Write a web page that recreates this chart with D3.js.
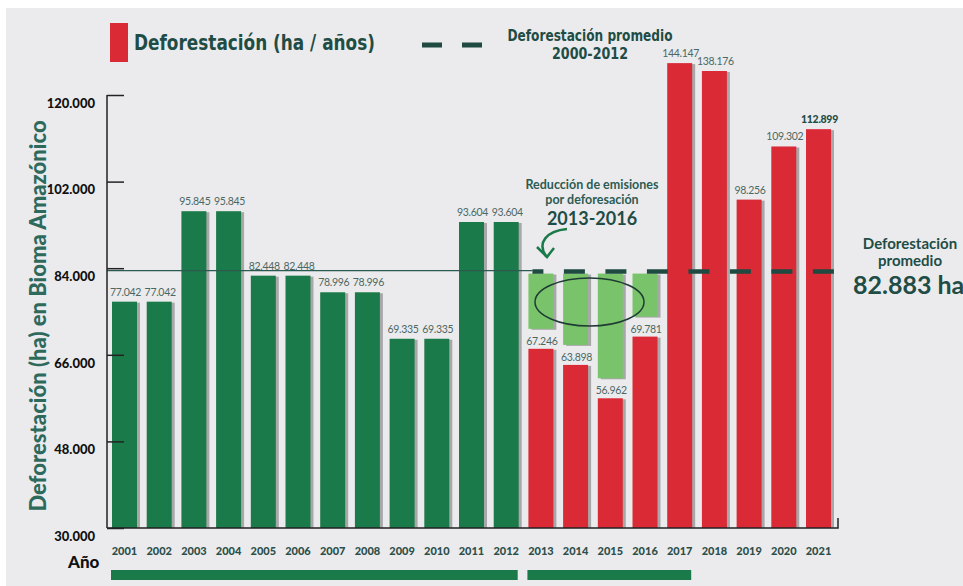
<!DOCTYPE html>
<meta charset="utf-8">
<style>
    body { margin: 0; background: #fff; }
    svg { display: block; font-family: Lato, 'Open Sans', sans-serif; }
    .val { fill: #4b6863; font-size: 10.5px; text-anchor: middle; letter-spacing: -0.3px; }
    .yr text { fill: #2d4f49; font-size: 11px; font-weight: 900; font-family: Lato, sans-serif; }
    .cond { font-family: 'Liberation Sans Narrow', 'DejaVu Sans Condensed', sans-serif; font-weight: bold; fill: #1f4d45; }
</style>
<svg width="963" height="586"></svg>
<script src="https://d3js.org/d3.v7.min.js"></script>
<script>

    var years = [2001, 2002, 2003, 2004, 2005, 2006, 2007, 2008, 2009, 2010, 2011,
                 2012, 2013, 2014, 2015, 2016, 2017, 2018, 2019, 2020, 2021];
    var deforestation = [77042, 77042, 95845, 95845, 82448, 82448, 78996, 78996, 69335, 69335, 93604,
                         93604, 67246, 63898, 56962, 69781, 144147, 138176, 98256, 109302, 112899];
    var average = 82883;
    var reductionYears = [2013, 2014, 2015, 2016];
    var yTicks = [30000, 48000, 66000, 84000, 102000, 120000];
    var periods = [[2001, 2012], [2013, 2017]];

    var data = years.map(function(y, i) { return {year: y, value: deforestation[i]}; });

    var svg = d3.select("svg");
    var fmt = d3.formatLocale({decimal: ",", thousands: ".", grouping: [3], currency: ["", ""]}).format(",.0f");

    var green = "#1b7a49", red = "#d92a36", light = "#79c46a", shadow = "#a8a8aa", dark = "#1f4d45";

    svg.append("rect").attr("x", 6).attr("y", 8).attr("width", 957).attr("height", 578).attr("fill", "#ebebee");

    // scales (the chart compresses values above 120.000)
    var x = d3.scaleBand().domain(years).range([112, 831]).paddingInner(0.28).paddingOuter(0);
    var y = d3.scaleLinear().domain([30000, 120000, 145000]).range([528, 95, 62]);
    var bw = x.bandwidth();

    // bars with shadow
    var bar = svg.append("g").selectAll("g").data(data).enter().append("g");
    bar.append("rect")
        .attr("x", function(d) { return x(d.year) + 3; })
        .attr("y", function(d) { return y(d.value) + 1; })
        .attr("width", bw)
        .attr("height", function(d) { return y(30000) - y(d.value) - 1; })
        .attr("fill", shadow);
    bar.append("rect")
        .attr("x", function(d) { return x(d.year); })
        .attr("y", function(d) { return y(d.value); })
        .attr("width", bw)
        .attr("height", function(d) { return y(30000) - y(d.value); })
        .attr("fill", function(d) { return d.year <= 2012 ? green : red; });

    // reduction bars 2013-2016
    var red4 = data.filter(function(d) { return reductionYears.indexOf(d.year) >= 0; });
    var rb = svg.append("g").selectAll("g").data(red4).enter().append("g");
    rb.append("rect")
        .attr("x", function(d) { return x(d.year) + 3; })
        .attr("y", y(average) + 1)
        .attr("width", bw)
        .attr("height", function(d) { return y(d.value) - 20 - y(average); })
        .attr("fill", shadow);
    rb.append("rect")
        .attr("x", function(d) { return x(d.year); })
        .attr("y", y(average))
        .attr("width", bw)
        .attr("height", function(d) { return y(d.value) - 20 - y(average); })
        .attr("fill", light);

    // value labels
    svg.append("g").selectAll("text").data(data).enter().append("text")
        .attr("class", "val")
        .attr("x", function(d) { return x(d.year) + bw / 2 + 1; })
        .attr("y", function(d) { return y(d.value) - (reductionYears.indexOf(d.year) >= 0 ? 4 : 6); })
        .style("font-weight", function(d) { return d.year === 2021 ? "900" : null; })
        .style("fill", function(d) { return d.year === 2021 ? dark : null; })
        .text(function(d) { return fmt(d.value); });

    // average line: thin solid for 2001-2012, thick dashes after
    var xSplit = x(2013) + 4;
    svg.append("line")
        .attr("x1", 107).attr("x2", xSplit)
        .attr("y1", y(average) - 3).attr("y2", y(average) - 3)
        .attr("stroke", "#2b5a50").attr("stroke-width", 1.3);
    svg.append("line")
        .attr("x1", xSplit).attr("x2", 837)
        .attr("y1", y(average) - 2).attr("y2", y(average) - 2)
        .attr("stroke", "#1f4a42").attr("stroke-width", 4.5)
        .attr("stroke-dasharray", "21,20.5").attr("stroke-dashoffset", 10);

    // y axis
    var yAxis = svg.append("g")
        .attr("transform", "translate(107,0)")
        .call(d3.axisLeft(y).tickValues(yTicks).tickFormat(fmt).tickSizeInner(-17).tickSizeOuter(0).tickPadding(12));
    yAxis.select(".domain").remove();
    yAxis.selectAll("line").attr("stroke", "#222").attr("stroke-width", 1.5);
    yAxis.selectAll("text")
        .attr("dy", "0.95em")
        .style("font-size", "13px").style("font-weight", "900").style("fill", "#111")
        .style("font-family", "Lato, sans-serif");
    svg.append("line")
        .attr("x1", 107).attr("x2", 107).attr("y1", y(120000)).attr("y2", y(30000))
        .attr("stroke", "#222").attr("stroke-width", 1.5);

    // x axis
    svg.append("path")
        .attr("d", "M107," + y(30000) + "H838V" + (y(30000) - 10))
        .attr("fill", "none").attr("stroke", "#222").attr("stroke-width", 1.5);
    var xAxis = svg.append("g")
        .attr("class", "yr")
        .attr("transform", "translate(0," + y(30000) + ")")
        .call(d3.axisBottom(x).tickSize(0).tickPadding(19));
    xAxis.select(".domain").remove();

    // period bars below years
    svg.append("g").selectAll("rect").data(periods).enter().append("rect")
        .attr("x", function(p) { return x(p[0]) - 1; })
        .attr("width", function(p) { return x(p[1]) + bw - x(p[0]); })
        .attr("y", 570).attr("height", 10)
        .attr("fill", green);

    svg.append("text").attr("x", 68).attr("y", 568)
        .style("font-size", "17px").style("font-weight", "900").style("fill", "#111")
        .text("Año");

    // y title
    svg.append("text")
        .attr("transform", "translate(46,316) rotate(-90)")
        .attr("text-anchor", "middle")
        .style("font-size", "22px").style("font-weight", "900").style("fill", "#2e6a5b")
        .text("Deforestación (ha) en Bioma Amazónico");

    // legend
    svg.append("rect").attr("x", 110).attr("y", 23).attr("width", 18).attr("height", 39).attr("fill", red);
    svg.append("text").attr("class", "cond").attr("x", 134).attr("y", 50)
        .attr("textLength", 241).attr("lengthAdjust", "spacingAndGlyphs")
        .style("font-size", "22px")
        .text("Deforestación (ha / años)");
    svg.append("line").attr("x1", 422).attr("x2", 482).attr("y1", 45).attr("y2", 45)
        .attr("stroke", "#1f4a42").attr("stroke-width", 5).attr("stroke-dasharray", "20,20");
    svg.append("text").attr("class", "cond").attr("x", 590).attr("y", 41).attr("text-anchor", "middle")
        .attr("textLength", 165).attr("lengthAdjust", "spacingAndGlyphs")
        .style("font-size", "15px").text("Deforestación promedio");
    svg.append("text").attr("class", "cond").attr("x", 590).attr("y", 59).attr("text-anchor", "middle")
        .attr("textLength", 76).attr("lengthAdjust", "spacingAndGlyphs")
        .style("font-size", "15px").text("2000-2012");

    // annotation
    var ann = svg.append("g").attr("text-anchor", "middle").style("font-weight", "bold").style("fill", "#2d5c52");
    ann.append("text").attr("x", 592).attr("y", 189).style("font-size", "12.5px").text("Reducción de emisiones");
    ann.append("text").attr("x", 592).attr("y", 204).style("font-size", "12.5px").text("por deforesación");
    ann.append("text").attr("x", 592).attr("y", 225).style("font-size", "18px").style("fill", "#1f4d45").text("2013-2016");
    svg.append("path").attr("d", "M567,229 C546,231 537,243 546,256")
        .attr("fill", "none").attr("stroke", green).attr("stroke-width", 2.5);
    svg.append("path").attr("d", "M537,247 L547,257 L554,248")
        .attr("fill", "none").attr("stroke", green).attr("stroke-width", 2.5);
    svg.append("ellipse").attr("cx", 589.5).attr("cy", 302).attr("rx", 54.5).attr("ry", 24)
        .attr("fill", "none").attr("stroke", "#1f3b35").attr("stroke-width", 1.5);

    // right side average label
    var avg = svg.append("g").attr("text-anchor", "middle").style("fill", dark).style("font-weight", "bold");
    avg.append("text").attr("x", 910).attr("y", 249).style("font-size", "15px").text("Deforestación");
    avg.append("text").attr("x", 910).attr("y", 266).style("font-size", "15px").text("promedio");
    svg.append("text").attr("x", 853).attr("y", 294)
        .style("font-size", "25px").style("font-weight", "bold").style("fill", dark)
        .text(fmt(average) + " ha");

</script>
